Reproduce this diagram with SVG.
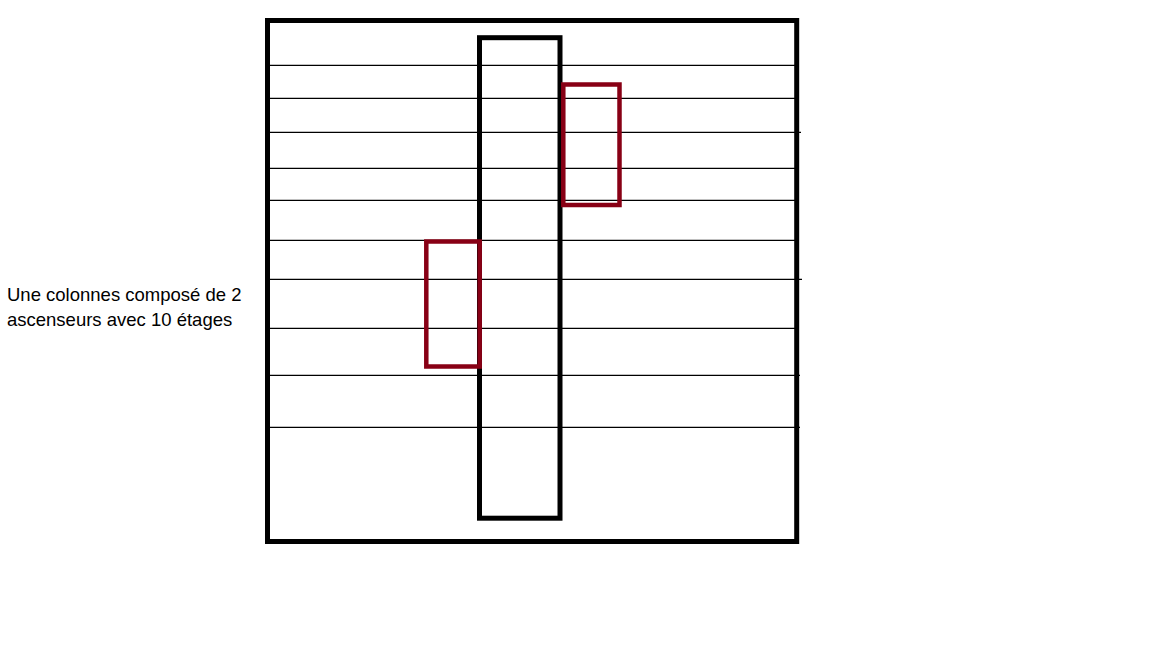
<svg xmlns="http://www.w3.org/2000/svg" width="1152" height="648" viewBox="0 0 1152 648">
<style>
.floor{stroke:#000;stroke-width:1.3;fill:none}
.box{fill:none;stroke:#000;stroke-width:5}
.car{fill:none;stroke:#880015;stroke-width:4.5}
.lbl{font-family:"Liberation Sans",Arial,sans-serif;font-size:18.5px;fill:#000}
</style>
<rect width="1152" height="648" fill="#fff"/>
<g id="floors">
<line class="floor" x1="270" y1="65.3" x2="795" y2="65.3"/>
<line class="floor" x1="270" y1="98.3" x2="795" y2="98.3"/>
<line class="floor" x1="270" y1="132.3" x2="801" y2="132.3"/>
<line class="floor" x1="270" y1="168.3" x2="795" y2="168.3"/>
<line class="floor" x1="270" y1="200.3" x2="795" y2="200.3"/>
<line class="floor" x1="270" y1="240.3" x2="795" y2="240.3"/>
<line class="floor" x1="270" y1="279.3" x2="802" y2="279.3"/>
<line class="floor" x1="270" y1="328.3" x2="795" y2="328.3"/>
<line class="floor" x1="270" y1="375.3" x2="800" y2="375.3"/>
<line class="floor" x1="270" y1="427.3" x2="800" y2="427.3"/>
</g>
<g id="building">
<rect class="box" x="267.5" y="20.5" width="529.2" height="521"/>
</g>
<g id="column">
<rect class="box" x="479.5" y="37.7" width="80.5" height="480.5"/>
</g>
<g id="elevator1">
<rect class="car" x="563.3" y="84.5" width="56.2" height="120.5"/>
</g>
<g id="elevator2">
<rect class="car" x="426.3" y="241.5" width="53.4" height="125"/>
</g>
<g id="label">
<text class="lbl" x="7" y="300.5">Une colonnes composé de 2</text>
<text class="lbl" x="7" y="325.5">ascenseurs avec 10 étages</text>
</g>
</svg>
